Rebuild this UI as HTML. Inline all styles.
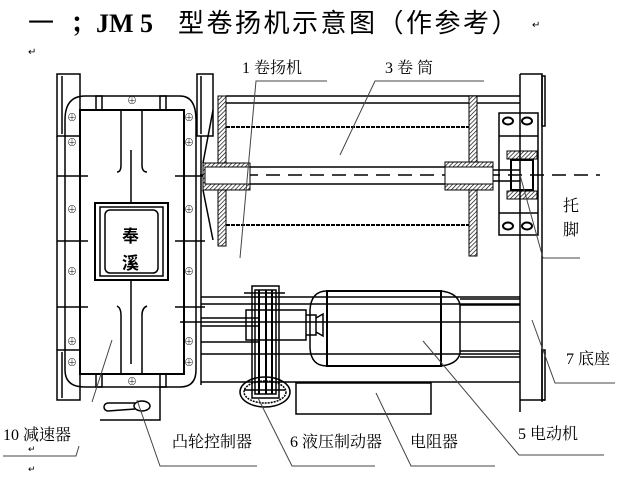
<!DOCTYPE html>
<html><head><meta charset="utf-8"><style>
body{margin:0;background:#fff}
svg{display:block}
text{font-family:"Liberation Serif","Noto Serif CJK SC","Noto Sans CJK SC",serif;fill:#000}
.s{font-family:"Liberation Sans","Noto Sans CJK SC",sans-serif}
</style></head><body>
<svg width="622" height="492" viewBox="0 0 622 492" xmlns="http://www.w3.org/2000/svg">
<defs>
<pattern id="h" width="3" height="3" patternUnits="userSpaceOnUse" patternTransform="rotate(45)"><rect width="3" height="3" fill="#fff"/><line x1="0" y1="0" x2="0" y2="3" stroke="#000" stroke-width="1.3"/></pattern>
</defs>
<!-- title -->
<text x="28" y="32" font-size="26" class="s">一</text>
<text x="70" y="32" font-size="26" font-weight="bold">；JM 5</text>
<text x="178" y="32" font-size="26" letter-spacing="2.5" class="s">型卷扬机示意图（作参考）</text>
<text x="532" y="28" font-size="10" fill="#888">↵</text>
<text x="28" y="55" font-size="10" fill="#888">↵</text>

<g fill="none" stroke="#000" stroke-width="1.5">
<!-- left gearbox -->
<rect x="57" y="74" width="23" height="62"/><line x1="62" y1="76" x2="62" y2="134"/>
<rect x="57" y="350" width="23" height="50"/><line x1="62" y1="352" x2="62" y2="398"/>
<path d="M65 120 Q65 96 85 96 L180 96 Q196 96 196 120 L196 370 Q196 387 180 387 L85 387 Q65 387 65 370 Z"/>
<rect x="80" y="110" width="104" height="264" stroke-width="2"/>
<rect x="197" y="74" width="16" height="62"/><line x1="201" y1="76" x2="201" y2="134"/>
<line x1="57" y1="136" x2="57" y2="350"/>
<line x1="201" y1="136" x2="201" y2="385"/>
<rect x="96" y="96" width="6" height="14"/><rect x="160" y="96" width="6" height="14"/>
<rect x="96" y="374" width="6" height="13"/><rect x="160" y="374" width="6" height="13"/>
<path d="M121 110 L121 165 Q121 172 117 172 M142 110 L142 165 Q142 172 147 172"/>
<path d="M121 374 L121 315 Q121 308 117 306 M142 374 L142 315 Q142 308 147 306"/>
<line x1="131" y1="150" x2="131" y2="203"/><line x1="131" y1="280" x2="131" y2="364"/>
<rect x="95" y="203" width="73" height="77" stroke-width="2"/>
<rect x="100" y="207" width="63" height="69"/>
<rect x="105" y="210" width="53" height="63" rx="5"/>
<line x1="57" y1="176" x2="88" y2="176"/><line x1="175" y1="176" x2="205" y2="176"/>
<line x1="57" y1="241" x2="88" y2="241"/><line x1="175" y1="241" x2="205" y2="241"/>
<line x1="57" y1="307" x2="88" y2="307"/><line x1="175" y1="307" x2="205" y2="307"/>
<path d="M100 420 L160 420 L160 387"/>
<path d="M108 403 a4 4 0 0 0 0 8 L135 409 M108 403 L135 403"/><ellipse cx="142" cy="406" rx="8" ry="5"/>
</g>
<g font-size="10" font-weight="bold" class="s">
<text x="67" y="121">⊕</text><text x="67" y="146">⊕</text><text x="67" y="213">⊕</text><text x="67" y="275">⊕</text><text x="67" y="345">⊕</text><text x="67" y="366">⊕</text>
<text x="184" y="121">⊕</text><text x="184" y="146">⊕</text><text x="184" y="213">⊕</text><text x="184" y="275">⊕</text><text x="184" y="345">⊕</text><text x="184" y="366">⊕</text>
<text x="127" y="104">⊕</text><text x="127" y="385">⊕</text>
</g>
<text x="122" y="242" font-size="17" font-weight="bold" class="s">奉</text>
<text x="122" y="269" font-size="17" font-weight="bold" class="s">溪</text>

<!-- drum -->
<g fill="none" stroke="#000" stroke-width="1.5">
<line x1="226" y1="96" x2="520" y2="96"/><line x1="226" y1="103" x2="520" y2="103"/>
<line x1="226" y1="127" x2="469" y2="127" stroke-dasharray="4 1" stroke-width="2"/>
<line x1="226" y1="225" x2="469" y2="225" stroke-dasharray="4 1" stroke-width="2"/>
<line x1="250" y1="167" x2="445" y2="167"/><line x1="250" y1="184" x2="445" y2="184"/>
<line x1="200" y1="175" x2="600" y2="175" stroke-dasharray="14 8"/>
<path d="M213 110 L203 163 M213 240 L203 190"/>
<line x1="493" y1="170" x2="520" y2="170"/><line x1="493" y1="181" x2="520" y2="181"/>
</g>
<rect x="218" y="96" width="8" height="150" fill="url(#h)" stroke="#000"/>
<rect x="203" y="163" width="47" height="27" fill="url(#h)" stroke="#000"/>
<rect x="205" y="167" width="45" height="17" fill="#fff" stroke="#000"/>
<rect x="469" y="96" width="8" height="160" fill="url(#h)" stroke="#000"/>
<rect x="445" y="162" width="48" height="28" fill="url(#h)" stroke="#000"/>
<rect x="445" y="167" width="48" height="17" fill="#fff" stroke="#000"/>
<g fill="none" stroke="#000" stroke-width="1.5">
<rect x="499" y="113" width="39" height="122"/>
<line x1="499" y1="136" x2="538" y2="136"/><line x1="499" y1="213" x2="538" y2="213"/>
<ellipse cx="508" cy="121" rx="5" ry="3.5" stroke-width="2"/><ellipse cx="527" cy="121" rx="5" ry="3.5" stroke-width="2"/>
<ellipse cx="508" cy="226" rx="5" ry="3.5" stroke-width="2"/><ellipse cx="527" cy="226" rx="5" ry="3.5" stroke-width="2"/>
<rect x="511" y="160" width="22" height="30" stroke-width="2"/>
</g>
<rect x="507" y="151" width="30" height="8" fill="url(#h)" stroke="#000"/>
<rect x="507" y="191" width="30" height="8" fill="url(#h)" stroke="#000"/>
<g fill="none" stroke="#000" stroke-width="1.5">
<line x1="520" y1="74" x2="520" y2="412"/>
<path d="M520 74 L542 74 L542 402"/>
<rect x="542" y="76" width="3" height="50" stroke-width="1.5"/>
<rect x="542" y="350" width="3" height="50" stroke-width="1.5"/>
<path d="M520 400 L545 400"/>
</g>
<g fill="none" stroke="#000" stroke-width="1.5">
<line x1="201" y1="297" x2="520" y2="297"/>
<line x1="201" y1="304" x2="520" y2="304"/>
<line x1="201" y1="318" x2="260" y2="318"/>
<line x1="201" y1="326" x2="260" y2="326"/>
<line x1="201" y1="342" x2="260" y2="342"/>
<line x1="201" y1="354" x2="520" y2="354"/>
<line x1="201" y1="382" x2="520" y2="382"/>
<line x1="180" y1="322" x2="520" y2="322"/>
<rect x="246" y="310" width="60" height="30"/>
<path d="M306 315 L316 315 L316 335 L306 335 M316 318 L323 314 L323 336 L316 332"/>
<rect x="252" y="286" width="27" height="112"/>
<rect x="255" y="290" width="21" height="104"/>
<line x1="259" y1="290" x2="259" y2="394" stroke-width="2"/>
<line x1="266" y1="290" x2="266" y2="394" stroke-width="2"/>
<line x1="272" y1="290" x2="272" y2="394" stroke-width="2"/>
<line x1="244" y1="293" x2="285" y2="293"/>
<line x1="244" y1="390" x2="285" y2="390"/>
<ellipse cx="265" cy="392" rx="25" ry="15"/>
<ellipse cx="265" cy="392" rx="21" ry="11" stroke-dasharray="2 1"/>
<path d="M327 291 Q311 291 310 310 L310 348 Q311 366 327 366"/>
<rect x="327" y="291" width="114" height="75" stroke-width="2"/>
<path d="M441 291 Q458 293 460 305 L460 353 Q458 364 441 366"/>
<line x1="460" y1="299" x2="520" y2="299"/><line x1="460" y1="305" x2="520" y2="305"/>
<line x1="460" y1="351" x2="520" y2="351"/><line x1="460" y1="357" x2="520" y2="357"/>
<rect x="296" y="383" width="135" height="31"/>
</g>
<g fill="none" stroke="#444" stroke-width="1">
<path d="M327 81 L256 81 L240 258"/>
<path d="M484 81 L375 81 L340 155"/>
<path d="M520 175 L543 258 L580 258"/>
<path d="M532 320 L555 383 L615 383"/>
<path d="M423 341 L519 455 L604 455"/>
<path d="M376 393 L411 466 L495 466"/>
<path d="M258 398 L292 466 L375 466"/>
<path d="M137 400 L160 466 L257 466"/>
<path d="M112 340 L92 402"/>
<path d="M79 446 L76 456 L3 456"/>
</g>
<g font-size="16" class="s">
<text x="242" y="73">1 卷扬机</text>
<text x="385" y="73">3 卷  筒</text>
<text x="563" y="211">托</text>
<text x="563" y="235">脚</text>
<text x="566" y="364">7 底座</text>
<text x="518" y="439">5 电动机</text>
<text x="410" y="447">电阻器</text>
<text x="290" y="447">6 液压制动器</text>
<text x="172" y="447">凸轮控制器</text>
<text x="3" y="440"><tspan font-family="Liberation Serif">10</tspan>  减速器</text>
</g>
<text x="28" y="452" font-size="9" fill="#888">↵</text>
<text x="28" y="472" font-size="9" fill="#888">↵</text>
</svg>
</body></html>
